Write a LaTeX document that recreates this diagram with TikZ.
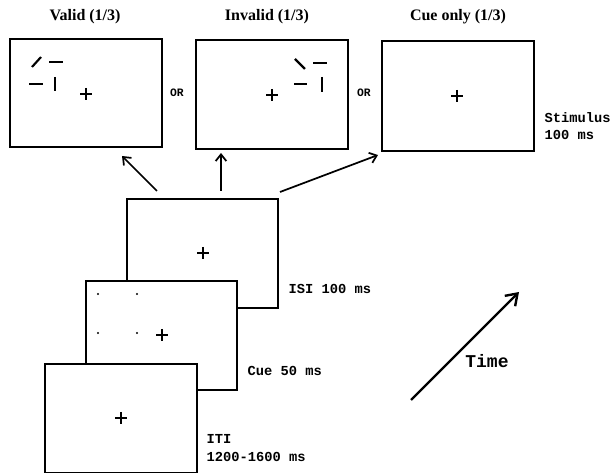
\documentclass[tikz,border=0pt]{standalone}
\usepackage{fontspec}
\setmainfont{Liberation Serif}
\setmonofont{Liberation Mono}
\usetikzlibrary{arrows.meta}
\begin{document}
\begin{tikzpicture}[x=0.75pt,y=-0.75pt,
  screen/.style={draw=black,line width=1.6pt,fill=white},
  title/.style={font=\fontsize{12}{14}\selectfont\bfseries},
  lab/.style={font=\fontsize{10.3}{13}\selectfont\ttfamily\bfseries,align=left,anchor=west},
  orlab/.style={font=\fontsize{8.5}{10}\selectfont\ttfamily\bfseries},
  fix/.style={line width=1.5pt},
  bar/.style={line width=1.6pt},
  arr/.style={line width=1.3pt,-{Straight Barb[length=5pt,width=8pt,line width=1.3pt]}},
  tarr/.style={line width=1.8pt,-{Straight Barb[length=8pt,width=11pt,line width=1.8pt]}}]
\useasboundingbox (0,0) rectangle (612,473);
% stimulus screens
\node[screen,minimum width=152pt*0.75,minimum height=108pt*0.75,inner sep=0,anchor=north west] (valid) at (9,38) {};
\node[screen,minimum width=152pt*0.75,minimum height=109pt*0.75,inner sep=0,anchor=north west] (invalid) at (195,39) {};
\node[screen,minimum width=152pt*0.75,minimum height=110pt*0.75,inner sep=0,anchor=north west] (cueonly) at (381,40) {};
\node[title] (tvalid) at (85,17) {Valid (1/3)};
\node[title] (tinvalid) at (267,17) {Invalid (1/3)};
\node[title] (tcueonly) at (458,17) {Cue only (1/3)};
\node[orlab] (or1) at (177,93) {OR};
\node[orlab] (or2) at (364,93) {OR};
\node[lab] (stim) at (540,126) {Stimulus\\100 ms};
% valid content
\draw[fix] (80,94) -- (92,94) (86,88) -- (86,100);
\draw[bar] (32,67) -- (41,57);
\draw[bar] (49,62) -- (63,62);
\draw[bar] (29,84) -- (43,84);
\draw[bar] (55,77) -- (55,91);
% invalid content
\draw[fix] (266,95) -- (278,95) (272,89) -- (272,101);
\draw[bar] (295,59) -- (305,69);
\draw[bar] (313,63) -- (327,63);
\draw[bar] (294,84) -- (307,84);
\draw[bar] (322,77) -- (322,92);
% cue only content
\draw[fix] (451,96) -- (463,96) (457,90) -- (457,102);
% ISI screen
\node[screen,minimum width=151pt*0.75,minimum height=109pt*0.75,inner sep=0,anchor=north west] (isi) at (126,198) {};
\draw[fix] (197,253) -- (209,253) (203,247) -- (203,259);
% cue screen
\node[screen,minimum width=151pt*0.75,minimum height=109pt*0.75,inner sep=0,anchor=north west] (cue) at (85,280) {};
\draw[fix] (156,335) -- (168,335) (162,329) -- (162,341);
\fill (98,294) circle (1.1) (137,294) circle (1.1) (98,333) circle (1.1) (137,333) circle (1.1);
% ITI screen
\node[screen,minimum width=152pt*0.75,minimum height=109pt*0.75,inner sep=0,anchor=north west] (iti) at (44,363) {};
\draw[fix] (115,418) -- (127,418) (121,412) -- (121,424);
% labels
\node[lab] (lisi) at (284,289) {ISI 100 ms};
\node[lab] (lcue) at (243,371) {Cue 50 ms};
\node[lab] (liti) at (202,448) {ITI\\1200-1600 ms};
% arrows
\coordinate (a1s) at (157,191); \coordinate (a1e) at (122,156);
\coordinate (a2s) at (221,191); \coordinate (a2e) at (221,153);
\coordinate (a3s) at (280,192); \coordinate (a3e) at (378,155);
\draw[arr] (a1s) -- (a1e);
\draw[arr] (a2s) -- (a2e);
\draw[arr] (a3s) -- (a3e);
\coordinate (ts) at (411,400); \coordinate (te) at (519,292);
\draw[tarr] (ts) -- (te);
\node[font=\fontsize{13.5}{16}\selectfont\ttfamily\bfseries] (time) at (487,361) {Time};
\end{tikzpicture}
\end{document}
